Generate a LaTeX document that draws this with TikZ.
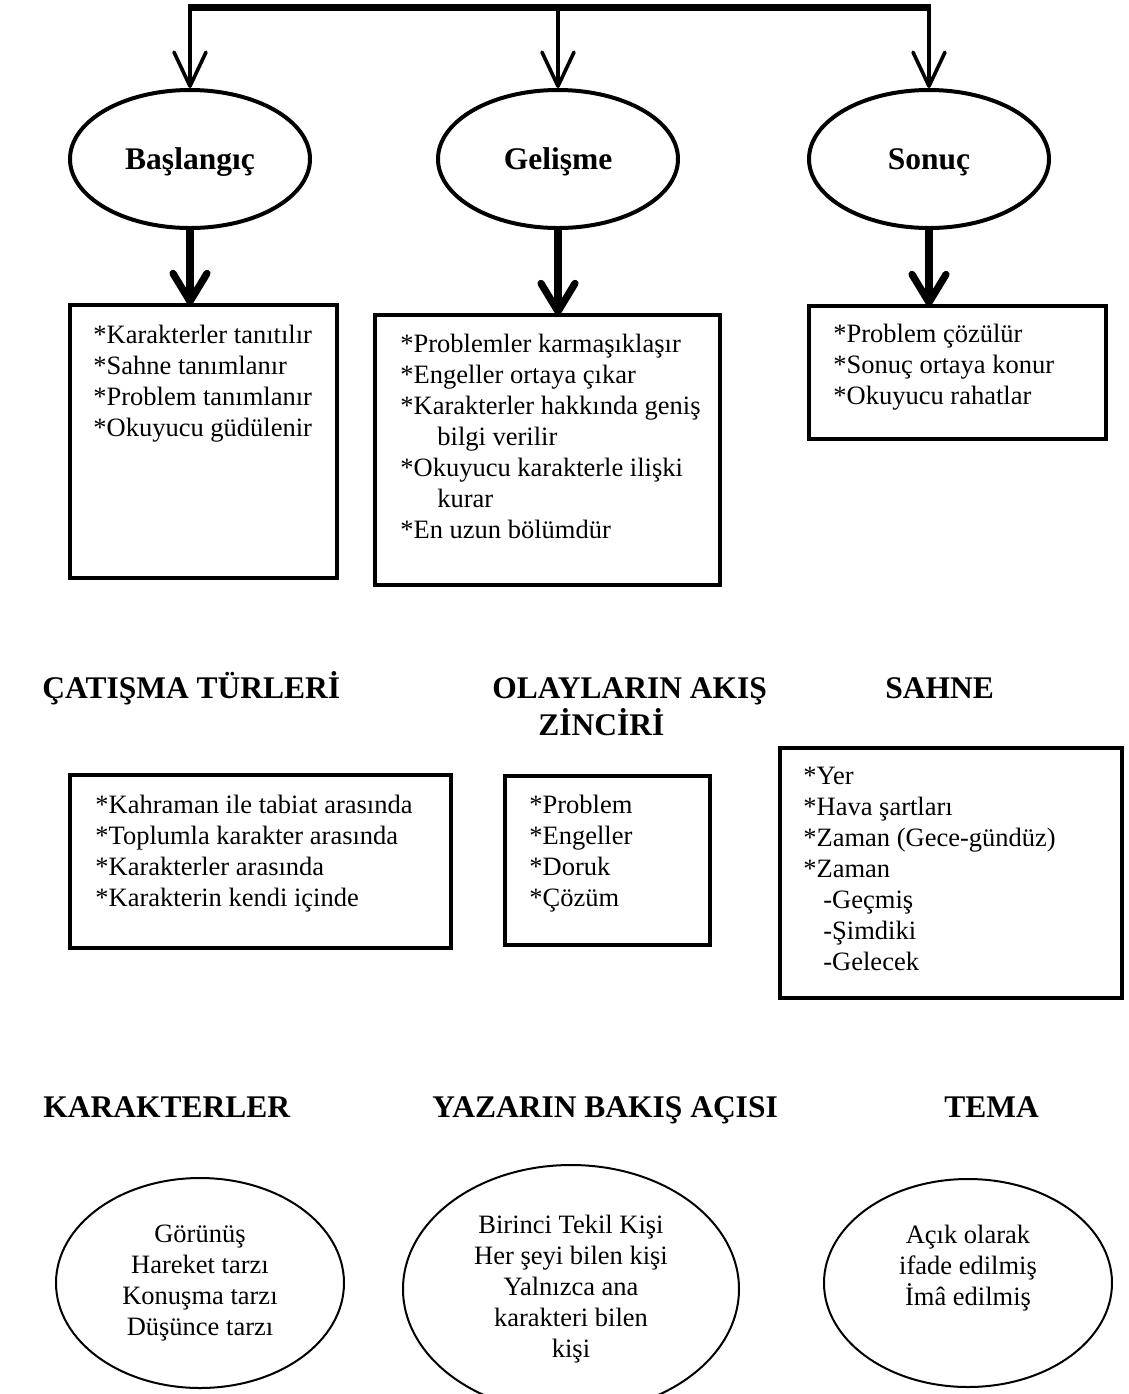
\documentclass[tikz,border=0pt]{standalone}
\usepackage{fontspec}
\setmainfont{Liberation Serif}
\usetikzlibrary{positioning,arrows.meta,shapes.geometric}
\tikzset{
  govde/.style={ellipse,draw,line width=2pt,minimum width=120pt,minimum height=69pt,inner sep=0pt,text depth=0pt,font=\fontsize{15.75}{18.5}\selectfont\bfseries},
  kutu/.style={rectangle,draw,line width=2.2pt,anchor=north west,inner sep=0pt,outer sep=0pt},
  liste/.style={anchor=north west,align=left,inner sep=0pt,font=\fontsize{13.25}{15.5}\selectfont},
  baslik/.style={anchor=base west,align=left,inner sep=0pt,font=\fontsize{15.75}{18.5}\selectfont\bfseries},
  halka/.style={ellipse,draw,line width=1pt,inner sep=0pt,align=center,font=\fontsize{13.25}{15.5}\selectfont},
  halkayazi/.style={align=center,inner sep=0pt,font=\fontsize{13.25}{15.5}\selectfont},
  ince/.style={line width=1.8pt,-{Straight Barb[length=17pt,width=16pt,round]}},
  kalin/.style={line width=3.6pt,-{Straight Barb[length=14pt,width=17pt,round]}}
}
\begin{document}
\begin{tikzpicture}[x=0.5pt,y=-0.5pt]
\useasboundingbox (0,0) rectangle (1129,1394);
\coordinate (bar) at (558,7);
\node[govde] (bas) at (190,159) {Başlangıç};
\node[govde] (gel) at (558,159) {Gelişme};
\node[govde] (son) at (929,159) {Sonuç};
\draw[line width=3.5pt] ([xshift=-0.9pt]bas.north |- bar) -- ([xshift=0.9pt]son.north |- bar);
\draw[ince] (bas.north |- bar) -- (bas.north);
\draw[ince] (gel.north |- bar) -- (gel.north);
\draw[ince] (son.north |- bar) -- (son.north);

\node[kutu,minimum width=133.5pt,minimum height=136.5pt] (k1) at (70,305) {};
\node[kutu,minimum width=172.5pt,minimum height=135pt] (k2) at (375,315) {};
\node[kutu,minimum width=148.5pt,minimum height=66.5pt] (k3) at (809,306) {};
\draw[kalin] (bas.south) -- (bas.south |- k1.north);
\draw[kalin] (gel.south) -- (gel.south |- k2.north);
\draw[kalin] (son.south) -- (son.south |- k3.north);
\node[liste,below right=10pt and 11.5pt of k1.north west] (l1) {*Karakterler tanıtılır\\*Sahne tanımlanır\\*Problem tanımlanır\\*Okuyucu güdülenir};
\node[liste,below right=9.5pt and 12.5pt of k2.north west] (l2) {*Problemler karmaşıklaşır\\*Engeller ortaya çıkar\\*Karakterler hakkında geniş\\\hspace*{18.5pt}bilgi verilir\\*Okuyucu karakterle ilişki\\\hspace*{18.5pt}kurar\\*En uzun bölümdür};
\node[liste,below right=9pt and 12pt of k3.north west] (l3) {*Problem çözülür\\*Sonuç ortaya konur\\*Okuyucu rahatlar};

\node[baslik] (catisma) at (42,698) {ÇATIŞMA TÜRLERİ};
\node[baslik] (akis) at (492,735) {OLAYLARIN AKIŞ\\\hspace*{23pt}ZİNCİRİ};
\node[baslik] (sahne) at (885,698) {SAHNE};
\node[kutu,minimum width=190.5pt,minimum height=86.5pt] (k4) at (70,775) {};
\node[kutu,minimum width=102.5pt,minimum height=84.5pt] (k5) at (505,776) {};
\node[kutu,minimum width=171pt,minimum height=125pt] (k6) at (780,748) {};
\node[liste,below right=10pt and 12.5pt of k4.north west] (l4) {*Kahraman ile tabiat arasında\\*Toplumla karakter arasında\\*Karakterler arasında\\*Karakterin kendi içinde};
\node[liste,below right=9.5pt and 12pt of k5.north west] (l5) {*Problem\\*Engeller\\*Doruk\\*Çözüm};
\node[liste,below right=9.5pt and 11.5pt of k6.north west] (l6) {*Yer\\*Hava şartları\\*Zaman (Gece-gündüz)\\*Zaman\\\hspace*{10pt}-Geçmiş\\\hspace*{10pt}-Şimdiki\\\hspace*{10pt}-Gelecek};

\node[baslik] (karakter) at (43,1117) {KARAKTERLER};
\node[baslik] (bakis) at (432,1117) {YAZARIN BAKIŞ AÇISI};
\node[baslik] (tema) at (944,1117) {TEMA};
\node[halka,minimum width=144pt,minimum height=105pt] (h1) at (200,1283) {Görünüş\\Hareket tarzı\\Konuşma tarzı\\Düşünce tarzı};
\node[halka,minimum width=168pt,minimum height=124pt] (h2) at (571,1289) {Birinci Tekil Kişi\\Her şeyi bilen kişi\\Yalnızca ana\\karakteri bilen\\kişi};
\node[halka,minimum width=144pt,minimum height=104pt] (h3) at (968,1283) {};
\node[halkayazi] (h3yazi) at (968,1268) {Açık olarak\\ifade edilmiş\\İmâ edilmiş};
\end{tikzpicture}
\end{document}
